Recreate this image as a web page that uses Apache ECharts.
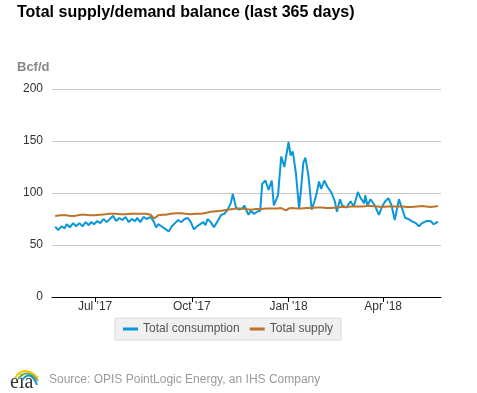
<!DOCTYPE html>
<html>
<head>
<meta charset="utf-8">
<script src="https://cdn.jsdelivr.net/npm/echarts@6/dist/echarts.min.js"></script>
<style>
html,body{margin:0;padding:0;background:#fff;}
#chart{width:477px;height:393px;}
</style>
</head>
<body>
<div id="chart"></div>
<script>
// Data start date (day 0) — last 365 days
var startDate = [2017, 4, 24];
var seriesNames = ['Total consumption', 'Total supply'];
var tickDates = [[2017, 6, 1], [2017, 9, 1], [2018, 0, 1], [2018, 3, 1]];
var monthNames = ['Jan','Feb','Mar','Apr','May','Jun','Jul','Aug','Sep','Oct','Nov','Dec'];

// Total consumption (Bcf/d): day index and value
var consumptionDays = [0,3,6,9,11,14,17,20,23,26,29,32,34,37,40,43,46,49,53,55,58,61,64,67,70,73,76,78,81,84,87,91,94,96,98,101,104,108,111,114,117,120,123,126,129,132,135,138,141,143,145,148,151,154,158,161,164,167,169,172,175,178,180,182,184,186,189,192,195,197,200,203,206,208,210,212,215,218,222,224,226,229,232,234,236,238,241,244,247,249,251,253,256,259,263,266,268,271,273,277,281,284,288,290,294,295,297,300,304,308,311,314,317,320,323,327,330,333,336,339,343,346,349,353,357,360,362,364];
var consumptionValues = [67.5,64.5,68,66,70,67,71,68,71,68,72,69,72,70,73,71,75,72,76,78,73,76,74,77,72,75,73,76,72,77,75,77,72,67,70,68,66,63,68,71,74,72,75,76,72,65,68,70,72,69,75,72,67,72,79,80,84,90,99,86,84,85,88,83,79,83,80,82,83,109,112,103,112,88,93,98,135,125,149,136,140,119,85,105,129,134,116,84,93,101,111,104,112,106,100,92,82,94,88,86,92,87,101,96,90,98,88,94,88,79,87,92,95,88,74,94,85,76,75,73,71,68,71,73,73,70,71,72.5];

// Total supply (Bcf/d): day index and value
var supplyDays = [0,5,10,15,19,24,29,33,38,43,48,52,57,62,67,72,76,81,86,91,94,98,102,105,110,115,120,124,129,134,139,144,148,153,158,164,169,173,177,182,186,191,196,201,206,211,215,218,220,222,225,230,234,239,244,249,253,258,263,268,272,277,282,287,292,297,301,306,311,316,320,325,330,335,339,344,349,353,357,361,364];
var supplyValues = [78,78.5,78.5,78,78,79,79,78.5,78.5,79,79.5,80,80,79.5,79.5,80,80,80,80,79,75.5,78.5,79,79,80,80.5,80.5,80,79.5,80,80,81,82,82.5,83,84,84.5,85,85,84.5,84,84.5,84.5,85,85,85,85.5,84,83.5,85,85.5,85,85,85.5,85.5,86,86,85.5,85.5,86,86.5,86.5,87,87,87,87.5,87.5,87,86.5,87,87,87,87,86.5,86.5,87,87.5,87,86.5,87,87.5];

var yTicks = [0, 50, 100, 150, 200];

function dayToTime(d) {
  return new Date(startDate[0], startDate[1], startDate[2] + d).getTime();
}
function pairs(days, vals) {
  var out = [];
  for (var i = 0; i < days.length; i++) out.push([dayToTime(days[i]), vals[i]]);
  return out;
}
var tickTimes = tickDates.map(function (t) { return new Date(t[0], t[1], t[2]).getTime(); });

var chart = echarts.init(document.getElementById('chart'), null, {renderer: 'canvas'});
var option = {
  backgroundColor: '#ffffff',
  animation: false,
  textStyle: {fontFamily: 'Liberation Sans, Arial, sans-serif'},
  grid: {left: 52, right: 36, top: 89, bottom: 96, containLabel: false},
  legend: {
    data: seriesNames,
    left: 115,
    top: 318,
    padding: [5, 8, 5, 8],
    backgroundColor: '#f0f0f0',
    borderColor: '#dddddd',
    borderWidth: 1,
    icon: 'rect',
    itemWidth: 15,
    itemHeight: 3,
    itemGap: 10,
    textStyle: {color: '#555555', fontSize: 12, fontFamily: 'Liberation Sans, Arial, sans-serif'}
  },
  xAxis: {
    type: 'value',
    min: new Date(2017, 4, 21).getTime(),
    max: new Date(2018, 4, 26).getTime(),
    axisLine: {show: true, onZero: false, lineStyle: {color: '#000000', width: 1}},
    axisTick: {show: true, length: 5, customValues: tickTimes, lineStyle: {color: '#000000'}},
    axisLabel: {
      customValues: tickTimes,
      color: '#333333',
      fontSize: 12,
      margin: 4,
      formatter: function (v) {
        var d = new Date(v);
        return monthNames[d.getMonth()] + " '" + String(d.getFullYear()).slice(2);
      }
    },
    splitLine: {show: false}
  },
  yAxis: {
    type: 'value',
    min: yTicks[0],
    max: yTicks[yTicks.length - 1],
    interval: 50,
    axisLine: {show: false},
    axisTick: {show: false},
    axisLabel: {color: '#333333', fontSize: 12, margin: 9},
    splitLine: {lineStyle: {color: '#c8c8c8', width: 1}}
  },
  series: [
    {
      name: seriesNames[0],
      type: 'line',
      data: pairs(consumptionDays, consumptionValues),
      showSymbol: false,
      symbol: 'none',
      itemStyle: {color: '#0a97d9'},
      lineStyle: {color: '#0a97d9', width: 2},
      z: 2
    },
    {
      name: seriesNames[1],
      type: 'line',
      data: pairs(supplyDays, supplyValues),
      showSymbol: false,
      symbol: 'none',
      itemStyle: {color: '#bd732a'},
      lineStyle: {color: '#bd732a', width: 2},
      z: 3
    }
  ],
  graphic: [
    {type: 'text', left: 17, top: 5, style: {text: 'Total supply/demand balance (last 365 days)', fill: '#000000', font: 'bold 16px Liberation Sans, Arial, sans-serif'}},
    {type: 'text', left: 17, top: 61, style: {text: 'Bcf/d', fill: '#888888', font: 'bold 13px Liberation Sans, Arial, sans-serif'}},
    {type: 'text', left: 49, top: 374, style: {text: 'Source: OPIS PointLogic Energy, an IHS Company', fill: '#9a9a9a', font: '12px Liberation Sans, Arial, sans-serif'}},
    {type: 'text', left: 10, top: 373, style: {text: 'eia', fill: '#333333', font: '20px Liberation Serif, DejaVu Serif, serif'}},
    {type: 'bezierCurve', shape: {x1: 15, y1: 378, x2: 38, y2: 378, cpx1: 24, cpy1: 364}, style: {stroke: '#f2c200', lineWidth: 2, fill: null}},
    {type: 'bezierCurve', shape: {x1: 18, y1: 379, x2: 38, y2: 381, cpx1: 27, cpy1: 367}, style: {stroke: '#6cb33f', lineWidth: 2, fill: null}},
    {type: 'bezierCurve', shape: {x1: 22, y1: 380, x2: 37, y2: 385, cpx1: 31, cpy1: 369}, style: {stroke: '#1f8fd0', lineWidth: 2, fill: null}}
  ]
};
chart.setOption(option);
</script>
</body>
</html>
